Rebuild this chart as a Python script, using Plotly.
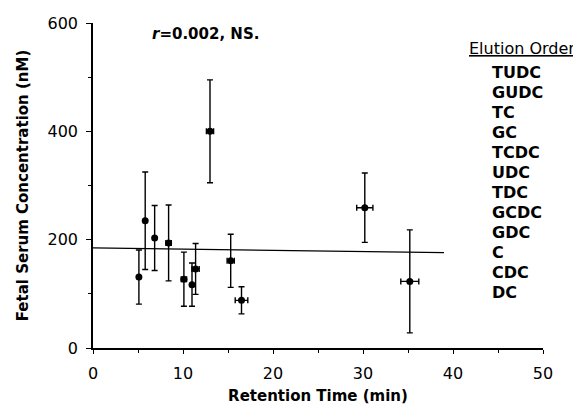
import plotly.graph_objects as go

# Data
acids = ["TUDC", "GUDC", "TC", "GC", "TCDC", "UDC", "TDC", "GCDC", "GDC", "C", "CDC", "DC"]
retention = [5.1, 5.8, 6.85, 8.4, 10.1, 11.0, 11.4, 13.0, 15.3, 16.5, 30.2, 35.2]
retention_err = [0, 0, 0, 0.3, 0.3, 0, 0.4, 0.4, 0.4, 0.7, 0.9, 1.0]
concentration = [131, 235, 203, 194, 127, 117, 146, 400, 161, 88, 259, 123]
concentration_err = [50, 90, 60, 70, 50, 40, 47, 95, 49, 25, 64, 95]
fit_x = [0, 39]
fit_y = [185, 176]
x_ticks = [0, 10, 20, 30, 40, 50]
y_ticks = [0, 200, 400, 600]

FONT = "DejaVu Sans, Verdana, sans-serif"

fig = go.Figure()
fig.add_trace(go.Scatter(
    x=fit_x, y=fit_y, mode="lines",
    line=dict(color="black", width=1.3), showlegend=False, hoverinfo="skip"))
fig.add_trace(go.Scatter(
    x=retention, y=concentration, mode="markers",
    marker=dict(color="black", size=7, symbol="circle"),
    error_y=dict(type="data", array=concentration_err, color="black", thickness=1.4, width=3),
    error_x=dict(type="data", array=retention_err, color="black", thickness=1.4, width=3),
    text=acids, showlegend=False))

# The page body has a default 8px margin, so the figure is sized/offset to compensate.
OFF = 8
W, H = 581 - OFF, 408 - OFF
# plot area in page pixels: x 93..543, y 23..348
L, T = 93 - OFF, 23 - OFF
R, B = W - (543 - OFF), H - (348 - OFF)
pw, ph = W - L - R, H - T - B

def px2paper(px, py):
    """page pixel -> paper coordinates"""
    fx, fy = px - OFF, py - OFF
    return (fx - L) / pw, (H - B - fy) / ph

fig.update_layout(
    width=W, height=H,
    margin=dict(l=L, r=R, t=T, b=B, autoexpand=False),
    paper_bgcolor="white", plot_bgcolor="white",
    font=dict(family=FONT, size=15, color="black"),
    xaxis=dict(range=[0, 50], tickvals=x_ticks, showgrid=False, zeroline=False,
               showline=True, linecolor="black", linewidth=1.5,
               ticks="outside", ticklen=4, tickwidth=1.3, tickcolor="black",
               minor=dict(dtick=5, tick0=0, ticks="outside", ticklen=3, tickwidth=1, tickcolor="black"),
               tickfont=dict(family=FONT, size=16),
               ticklabelstandoff=6,
               tickprefix="<b>", ticksuffix="</b>",
               title=dict(text="<b>Retention Time (min)</b>", font=dict(size=15), standoff=9)),
    yaxis=dict(range=[0, 600], tickvals=y_ticks, showgrid=False, zeroline=False,
               showline=True, linecolor="black", linewidth=1.5,
               ticks="outside", ticklen=5, tickwidth=1.3, tickcolor="black",
               minor=dict(dtick=100, tick0=0, ticks="outside", ticklen=3, tickwidth=1, tickcolor="black"),
               tickfont=dict(family=FONT, size=16),
               ticklabelstandoff=5,
               tickprefix="<b>", ticksuffix="</b>",
               title=dict(text="<b>Fetal Serum Concentration (nM)</b>", font=dict(size=15), standoff=15)),
    showlegend=False,
)

ax, ay = px2paper(150, 34)
fig.add_annotation(xref="paper", yref="paper", x=ax, y=ay, showarrow=False,
                   text="<b><i>r</i>=0.002, NS.</b>", font=dict(size=15), xanchor="left", yanchor="middle")

ex, ey = px2paper(577, 49)
fig.add_annotation(xref="paper", yref="paper", x=ex, y=ey, showarrow=False,
                   text="<u>Elution Order</u>", font=dict(size=16), xanchor="right", yanchor="middle")

for i, name in enumerate(acids):
    lx, ly = px2paper(490, 72 + i * 20)
    fig.add_annotation(xref="paper", yref="paper", x=lx, y=ly, showarrow=False,
                       text=f"<b>{name}</b>", font=dict(size=16), xanchor="left", yanchor="middle")

fig.write_html("out.html")
